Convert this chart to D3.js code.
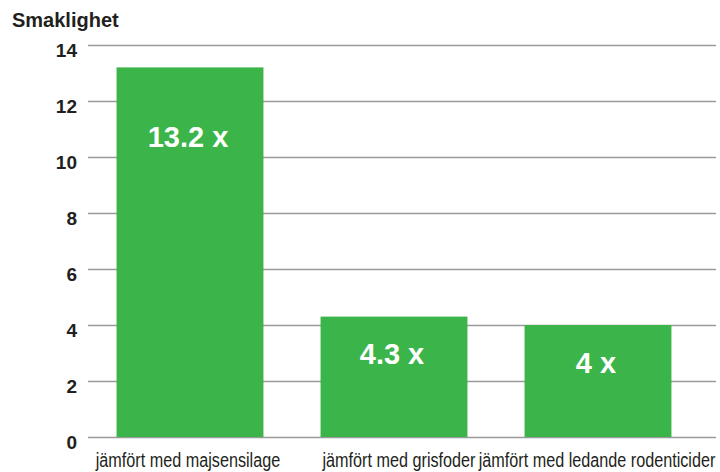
<!DOCTYPE html>
<html>
<head>
<meta charset="utf-8">
<script src="https://cdn.jsdelivr.net/npm/d3@7"></script>
<style>
  body { margin: 0; background: #fff; }
  svg { display: block; }
</style>
</head>
<body>
<svg id="chart"></svg>
<script>
let categories = ['jämfört med majsensilage', 'jämfört med grisfoder', 'jämfört med ledande rodenticider']
let values = [13.2, 4.3, 4]
let valueLabels = ['13.2 x', '4.3 x', '4 x']
let yTicks = [0, 2, 4, 6, 8, 10, 12, 14]
let yTitle = 'Smaklighet'

// pixel offset of the value label baseline below each bar top
let labelDy = [80, 47, 48]
// small horizontal nudges of the category labels
let catDx = [-2, 5, -1]

let width = 720
let height = 472
let plotLeft = 88
let plotRight = 716
let plotTop = 45
let plotBottom = 437

let green = '#3bb54a'
let ink = '#231f20'

let svg = d3.select('#chart')
  .attr('width', width)
  .attr('height', height)

let yScale = d3.scaleLinear()
  .domain([0, 14])
  .range([plotBottom, plotTop])

let xScale = d3.scaleBand()
  .domain(categories)
  .range([plotLeft, 700])
  .paddingInner(0.28)
  .paddingOuter(0.14)

// grid + tick labels
let yAxis = d3.axisLeft(yScale)
  .tickValues(yTicks)
  .tickSizeInner(-(plotRight - plotLeft))
  .tickSizeOuter(0)
  .tickPadding(11)

let gy = svg.append('g')
  .attr('transform', 'translate(' + plotLeft + ',0)')
  .call(yAxis)

gy.select('.domain').remove()
gy.selectAll('.tick line')
  .attr('stroke', '#9a9a9a')
  .attr('stroke-width', 1.5)
gy.selectAll('.tick text')
  .attr('dy', '0.58em')
  .attr('fill', ink)
  .style('font-family', '"Liberation Sans", Arial, Helvetica, sans-serif')
  .style('font-weight', 'bold')
  .style('font-size', '19px')

svg.append('text')
  .attr('x', 12)
  .attr('y', 27)
  .attr('fill', ink)
  .style('font-family', '"Liberation Sans", Arial, Helvetica, sans-serif')
  .style('font-weight', 'bold')
  .style('font-size', '20px')
  .text(yTitle)

// bars
svg.selectAll('rect.bar')
  .data(values)
  .enter()
  .append('rect')
  .attr('class', 'bar')
  .attr('x', (d, i) => xScale(categories[i]))
  .attr('y', (d) => yScale(d))
  .attr('width', xScale.bandwidth())
  .attr('height', (d) => yScale(0) - yScale(d))
  .attr('fill', green)

// value labels
svg.selectAll('text.val')
  .data(values)
  .enter()
  .append('text')
  .attr('class', 'val')
  .attr('x', (d, i) => xScale(categories[i]) + xScale.bandwidth() / 2 - 2)
  .attr('y', (d, i) => yScale(d) + labelDy[i])
  .attr('text-anchor', 'middle')
  .attr('fill', '#fff')
  .style('font-family', '"Liberation Sans", Arial, Helvetica, sans-serif')
  .style('font-weight', 'bold')
  .style('font-size', '29px')
  .text((d, i) => valueLabels[i])

// category labels (condensed look by squeezing horizontally)
svg.selectAll('text.cat')
  .data(categories)
  .enter()
  .append('text')
  .attr('class', 'cat')
  .attr('transform', (d, i) => 'translate(' + (xScale(d) + xScale.bandwidth() / 2 + catDx[i]) + ',467) scale(0.81,1)')
  .attr('text-anchor', 'middle')
  .attr('fill', ink)
  .style('font-family', '"Liberation Sans", Arial, Helvetica, sans-serif')
  .style('font-size', '20px')
  .text((d) => d)
</script>
</body>
</html>
